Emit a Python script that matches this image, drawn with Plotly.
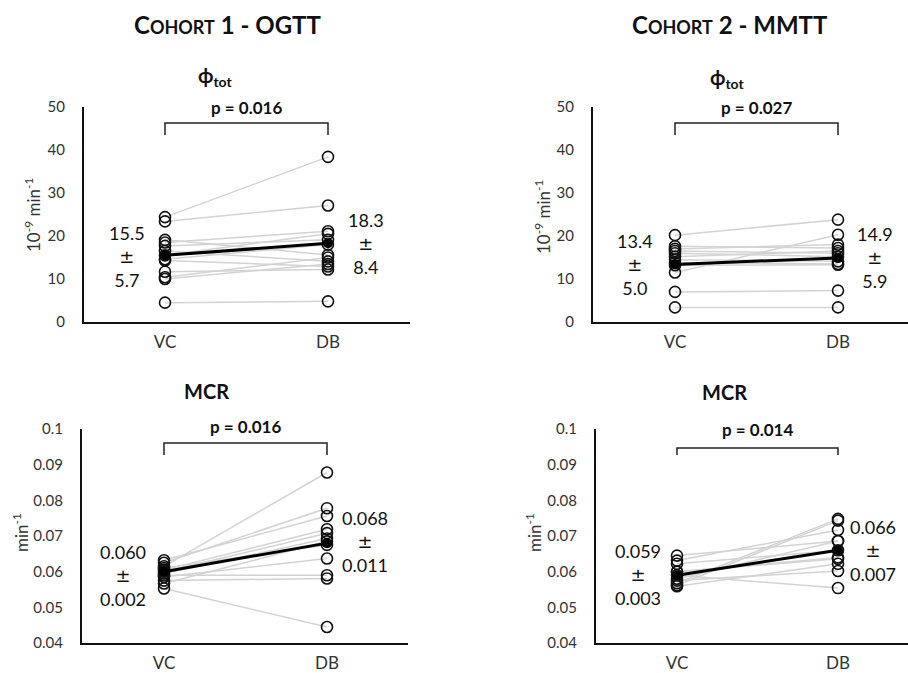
import plotly.graph_objects as go

W, H = 908, 673

categories = ["VC", "DB"]

# Cohort 1 - OGTT, phi_tot (10^-9 min^-1)
c1_phi_vc = [24.4, 23.4, 19.1, 18.5, 17.7, 16.5, 15.5, 14.6, 14.3, 11.7, 10.4, 10.0, 4.5]
c1_phi_db = [38.4, 27.1, 15.6, 21.1, 19.1, 14.1, 20.5, 18.0, 12.9, 12.2, 15.0, 13.5, 4.8]
c1_phi_mean = [15.5, 18.3]
c1_phi_sd = ["5.7", "8.4"]
c1_phi_p = "p = 0.016"

# Cohort 2 - MMTT, phi_tot
c2_phi_vc = [20.2, 17.6, 17.0, 16.5, 16.0, 15.2, 14.5, 13.8, 13.2, 11.5, 7.0, 3.4]
c2_phi_db = [23.8, 17.2, 18.0, 16.0, 15.2, 16.5, 14.1, 13.5, 13.3, 20.3, 7.3, 3.4]
c2_phi_mean = [13.4, 14.9]
c2_phi_sd = ["5.0", "5.9"]
c2_phi_p = "p = 0.027"

# Cohort 1 - OGTT, MCR (min^-1)
c1_mcr_vc = [0.0615, 0.0625, 0.0632, 0.0605, 0.0600, 0.0595, 0.0610, 0.0585, 0.0590, 0.0575, 0.0567, 0.0553]
c1_mcr_db = [0.0878, 0.0778, 0.0756, 0.0719, 0.0708, 0.0693, 0.0675, 0.0637, 0.0590, 0.0581, 0.0685, 0.0445]
c1_mcr_mean = [0.060, 0.068]
c1_mcr_sd = ["0.002", "0.011"]
c1_mcr_p = "p = 0.016"

# Cohort 2 - MMTT, MCR
c2_mcr_vc = [0.0645, 0.0631, 0.0622, 0.0600, 0.0590, 0.0568, 0.0562, 0.0559, 0.0575, 0.0580, 0.0600]
c2_mcr_db = [0.0686, 0.0717, 0.0660, 0.0636, 0.0554, 0.0748, 0.0743, 0.0622, 0.0602, 0.0686, 0.0640]
c2_mcr_mean = [0.059, 0.066]
c2_mcr_sd = ["0.003", "0.007"]
c2_mcr_p = "p = 0.014"

FONT = "Lato, 'Open Sans', sans-serif"
TXT = "#111111"


def px(x):
    return x / W


def py(y):
    return 1 - y / H


panels = [
    dict(vc=c1_phi_vc, db=c1_phi_db, mean=c1_phi_mean, sd=c1_phi_sd, p=c1_phi_p,
         x0=84, x1=410, xvc=165, xdb=328, ytop=107, ybot=322, yr=[0, 50],
         fmt="phi", ytitle="10<sup>-9</sup> min<sup>-1</sup>", ytx=33, yty=215,
         lab_l=(127, 256), lab_r=(366, 243), br_top=123, br_bot=135, p_y=107),
    dict(vc=c2_phi_vc, db=c2_phi_db, mean=c2_phi_mean, sd=c2_phi_sd, p=c2_phi_p,
         x0=593, x1=908, xvc=675, xdb=838, ytop=107, ybot=322, yr=[0, 50],
         fmt="phi", ytitle="10<sup>-9</sup> min<sup>-1</sup>", ytx=543, yty=217,
         lab_l=(635, 265), lab_r=(875, 257), br_top=123, br_bot=135, p_y=108),
    dict(vc=c1_mcr_vc, db=c1_mcr_db, mean=c1_mcr_mean, sd=c1_mcr_sd, p=c1_mcr_p,
         x0=82, x1=408, xvc=164, xdb=327, ytop=429, ybot=643, yr=[0.04, 0.1],
         fmt="mcr", ytitle="min<sup>-1</sup>", ytx=20, yty=533,
         lab_l=(123, 575), lab_r=(365, 541), br_top=443, br_bot=455, p_y=426),
    dict(vc=c2_mcr_vc, db=c2_mcr_db, mean=c2_mcr_mean, sd=c2_mcr_sd, p=c2_mcr_p,
         x0=596, x1=908, xvc=677, xdb=838, ytop=429, ybot=643, yr=[0.04, 0.1],
         fmt="mcr", ytitle="min<sup>-1</sup>", ytx=533, yty=533,
         lab_l=(638, 574), lab_r=(873, 550), br_top=448, br_bot=455, p_y=430),
]

phi_ticks = [0, 10, 20, 30, 40, 50]
phi_ticktext = ["0", "10", "20", "30", "40", "50"]
mcr_ticks = [0.04, 0.05, 0.06, 0.07, 0.08, 0.09, 0.1]
mcr_ticktext = ["0.04", "0.05", "0.06", "0.07", "0.08", "0.09", "0.1"]

fig = go.Figure()
annotations = []
shapes = []
layout = {}

PM = "<span style='font-family:DejaVu Sans'>±</span>"


def ann(x, y, text, size, color=TXT, angle=0):
    return dict(x=px(x), y=py(y), xref="paper", yref="paper", text=text,
                showarrow=False, xanchor="center", yanchor="middle", align="center",
                textangle=angle, font=dict(family=FONT, size=size, color=color))


for i, pn in enumerate(panels, start=1):
    xa = "x" if i == 1 else f"x{i}"
    ya = "y" if i == 1 else f"y{i}"
    xkey = "xaxis" if i == 1 else f"xaxis{i}"
    ykey = "yaxis" if i == 1 else f"yaxis{i}"
    sp = pn["xdb"] - pn["xvc"]
    xr = [-(pn["xvc"] - pn["x0"]) / sp, 1 + (pn["x1"] - pn["xdb"]) / sp]

    # gray subject lines
    lx, ly = [], []
    for a, b in zip(pn["vc"], pn["db"]):
        lx += [categories[0], categories[1], None]
        ly += [a, b, None]
    fig.add_trace(go.Scatter(x=lx, y=ly, mode="lines", xaxis=xa, yaxis=ya,
                             line=dict(color="#d3d3d3", width=1.5),
                             hoverinfo="skip", showlegend=False))
    # subject markers
    mx = [categories[0]] * len(pn["vc"]) + [categories[1]] * len(pn["db"])
    my = list(pn["vc"]) + list(pn["db"])
    fig.add_trace(go.Scatter(x=mx, y=my, mode="markers", xaxis=xa, yaxis=ya,
                             marker=dict(symbol="circle", size=11, color="rgba(255,255,255,0)",
                                         line=dict(color="#111111", width=1.6)),
                             showlegend=False))
    # mean line
    fig.add_trace(go.Scatter(x=categories, y=pn["mean"], mode="lines+markers", xaxis=xa, yaxis=ya,
                             line=dict(color="#000000", width=3),
                             marker=dict(symbol="circle", size=10, color="#000000"),
                             showlegend=False))

    layout[xkey] = dict(domain=[px(pn["x0"]), min(px(pn["x1"]), 1.0)], range=xr,
                        type="category", anchor=ya, showline=True, linecolor="#111111",
                        linewidth=2, showgrid=False, zeroline=False,
                        ticks="outside", ticklen=4, tickcolor="rgba(0,0,0,0)",
                        tickfont=dict(family=FONT, size=17, color="#333333"),
                        fixedrange=True, automargin=False)
    if pn["fmt"] == "phi":
        tv, tt = phi_ticks, phi_ticktext
    else:
        tv, tt = mcr_ticks, mcr_ticktext
    layout[ykey] = dict(domain=[py(pn["ybot"]), py(pn["ytop"])], range=pn["yr"], anchor=xa,
                        showline=True, linecolor="#111111", linewidth=2, showgrid=False,
                        zeroline=False, tickvals=tv, ticktext=tt,
                        ticks="outside", ticklen=14, tickcolor="rgba(0,0,0,0)",
                        tickfont=dict(family=FONT, size=15, color="#333333"),
                        fixedrange=True, automargin=False)

    annotations.append(ann(pn["ytx"], pn["yty"], pn["ytitle"], 17, "#333333", -90))
    dec = 1 if pn["fmt"] == "phi" else 3
    lx_, ly_ = pn["lab_l"]
    annotations.append(ann(lx_, ly_, f"{pn['mean'][0]:.{dec}f}<br>{PM}<br>{pn['sd'][0]}", 18))
    rx_, ry_ = pn["lab_r"]
    annotations.append(ann(rx_, ry_, f"{pn['mean'][1]:.{dec}f}<br>{PM}<br>{pn['sd'][1]}", 18))
    # bracket
    shapes.append(dict(type="path", xref=xa, yref="paper",
                       path=f"M 0,{py(pn['br_bot'])} L 0,{py(pn['br_top'])} L 1,{py(pn['br_top'])} L 1,{py(pn['br_bot'])}",
                       line=dict(color="#222222", width=1.5)))
    annotations.append(ann((pn["xvc"] + pn["xdb"]) / 2, pn["p_y"], f"<b>{pn['p']}</b>", 17))

# column titles
for cx, label in [(227, "<b>C<span style='font-size:18px'>OHORT</span> 1 - OGTT</b>"),
                  (730, "<b>C<span style='font-size:18px'>OHORT</span> 2 - MMTT</b>")]:
    annotations.append(ann(cx, 25, label, 24))

# panel titles
for cx, cy, label in [(215, 76, "<b>ϕ<sub>tot</sub></b>"), (727, 78, "<b>ϕ<sub>tot</sub></b>"),
                      (206, 391, "<b>MCR</b>"), (724, 392, "<b>MCR</b>")]:
    annotations.append(ann(cx, cy, label, 20))

fig.update_layout(width=W, height=H, margin=dict(l=0, r=0, t=0, b=0, autoexpand=False),
                  paper_bgcolor="white", plot_bgcolor="white",
                  annotations=annotations, shapes=shapes, showlegend=False, **layout)

fig.write_html("out.html", config={"displayModeBar": False},
               post_script="document.body.style.margin='0px';")
